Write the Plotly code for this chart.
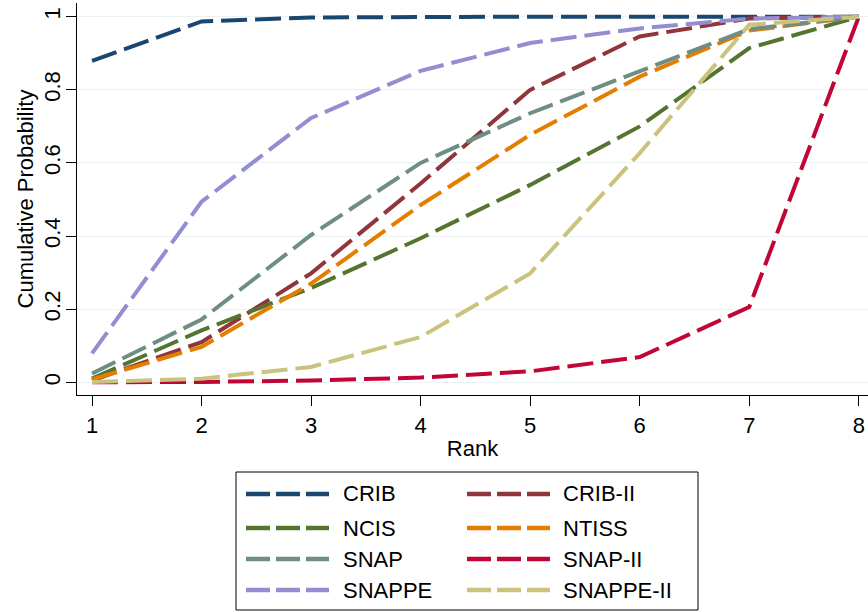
import plotly.graph_objects as go

ranks = [1, 2, 3, 4, 5, 6, 7, 8]
names = ["CRIB", "CRIB-II", "NCIS", "NTISS", "SNAP", "SNAP-II", "SNAPPE", "SNAPPE-II"]
colors = ["#1a476f", "#90353b", "#55752f", "#e37e00", "#6e8e84", "#c10534", "#938dd2", "#cac27e"]

crib = [0.879, 0.987, 0.998, 1.0, 1.0, 1.0, 1.0, 1.0]
crib_ii = [0.005, 0.11, 0.298, 0.544, 0.80, 0.946, 0.995, 1.0]
ncis = [0.01, 0.142, 0.258, 0.394, 0.54, 0.70, 0.914, 1.0]
ntiss = [0.008, 0.097, 0.27, 0.485, 0.677, 0.836, 0.962, 1.0]
snap = [0.024, 0.172, 0.403, 0.60, 0.736, 0.85, 0.966, 1.0]
snap_ii = [0.0, 0.001, 0.005, 0.013, 0.03, 0.069, 0.206, 1.0]
snappe = [0.079, 0.494, 0.723, 0.852, 0.928, 0.968, 0.995, 1.0]
snappe_ii = [0.001, 0.01, 0.042, 0.124, 0.298, 0.627, 0.978, 1.0]

series = [crib, crib_ii, ncis, ntiss, snap, snap_ii, snappe, snappe_ii]

DASH = "26px,8px"
FONT = "Liberation Sans, Arial, sans-serif"

fig = go.Figure()
for name, col, vals in zip(names, colors, series):
    fig.add_trace(go.Scatter(x=ranks, y=vals, mode="lines", name=name,
                             line=dict(color=col, width=4, dash=DASH),
                             showlegend=False, hoverinfo="skip"))

W, H = 868, 612
L, R, T, B = 77, 0, 3, 217
pw, ph = W - L - R, H - T - B

def px(xp):
    return (xp - L) / pw

def py(yp):
    return (H - B - yp) / ph

shapes = [dict(type="rect", xref="paper", yref="paper",
               x0=px(236), x1=px(698), y0=py(472), y1=py(610),
               line=dict(color="black", width=1), fillcolor="white", layer="below")]
annotations = []
row_y = [494, 528, 559, 590]
col_line = [(246, 329, 343), (467, 550, 563)]
for i, (name, col) in enumerate(zip(names, colors)):
    r, c = divmod(i, 2)
    x0, x1, xt = col_line[c]
    yy = py(row_y[r])
    shapes.append(dict(type="line", xref="paper", yref="paper",
                       x0=px(x0), x1=px(x1), y0=yy, y1=yy,
                       line=dict(color=col, width=4.5, dash="24px,6px")))
    annotations.append(dict(xref="paper", yref="paper", x=px(xt) - 0.003, y=yy,
                            text=name, showarrow=False, xanchor="left", yanchor="middle",
                            font=dict(size=22, color="black", family=FONT)))

fig.update_layout(
    template="none",
    width=W, height=H,
    margin=dict(l=L, r=R, t=T, b=B, pad=0, autoexpand=False),
    plot_bgcolor="white", paper_bgcolor="white",
    font=dict(family=FONT, size=22, color="black"),
    shapes=shapes, annotations=annotations,
    xaxis=dict(range=[0.863, 8.084], tickvals=ranks, showgrid=False, zeroline=False,
               automargin=False,
               showline=True, linecolor="black", linewidth=1.3,
               ticks="outside", ticklen=10, tickcolor="black", tickwidth=1.3,
               title=dict(text="Rank", font=dict(size=22), standoff=4),
               tickfont=dict(size=22)),
    yaxis=dict(range=[-0.0347, 1.0375], tickvals=[0, 0.2, 0.4, 0.6, 0.8, 1],
               ticktext=["0", "0.2", "0.4", "0.6", "0.8", "1"],
               automargin=False, ticklabelstandoff=-3,
               showgrid=True, gridcolor="#eaf2f3", gridwidth=1.3, zeroline=False,
               showline=True, linecolor="black", linewidth=1.3,
               ticks="outside", ticklen=10, tickcolor="black", tickwidth=1.3,
               tickangle=-90, tickfont=dict(size=22),
               title=dict(text="Cumulative Probability", font=dict(size=22), standoff=0)),
)

fig.write_html("out.html", config={"displayModeBar": False},
               post_script="document.body.style.margin='0px';")
